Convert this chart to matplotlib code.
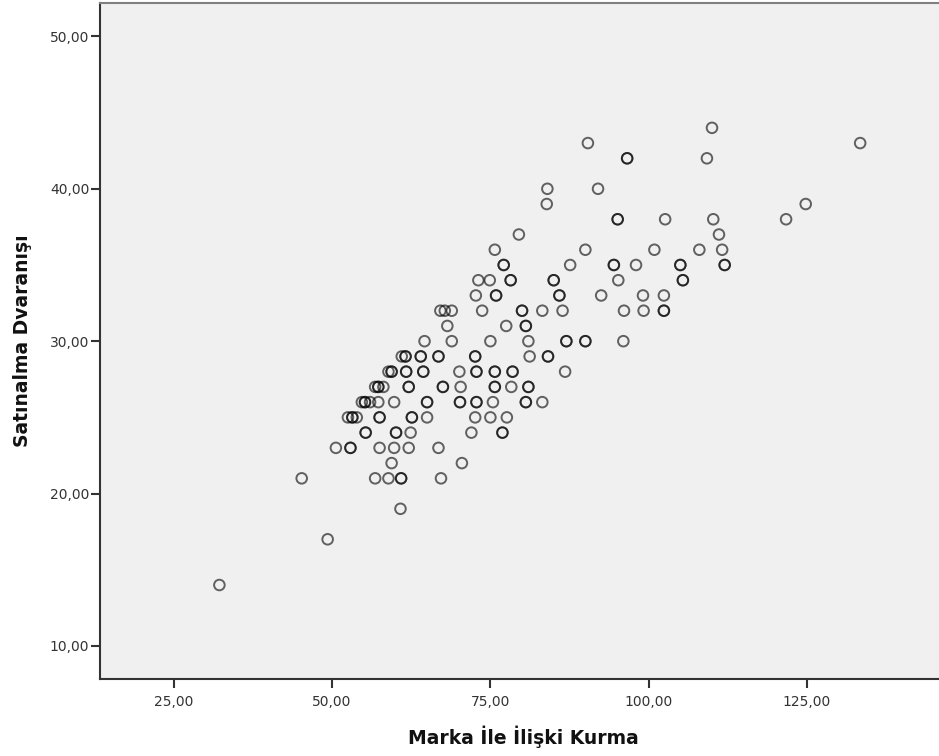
import matplotlib.pyplot as plt
from matplotlib.ticker import FuncFormatter

plt.rcParams['font.family'] = ['DejaVu Sans']

# Satınalma Dvaranışı (y) rows with the Marka İle İlişki Kurma (x) values.
# Values that appear twice are overlapping cases (drawn darker in the original).
rows = {
    44: [110.0],
    43: [90.4, 133.4],
    42: [96.6, 96.6, 109.2],
    40: [84.0, 92.0],
    39: [83.9, 124.8],
    38: [95.1, 95.1, 102.6, 110.2, 121.7],
    37: [79.5, 111.1],
    36: [75.7, 90.0, 100.9, 108.0, 111.6],
    35: [77.1, 77.1, 87.6, 94.5, 94.5, 98.0, 105.0, 105.0, 112.0, 112.0],
    34: [73.1, 74.9, 78.2, 78.2, 85.0, 85.0, 95.2, 105.4, 105.4],
    33: [72.7, 75.9, 75.9, 85.9, 85.9, 92.5, 99.1, 102.4],
    32: [67.1, 67.8, 68.9, 73.7, 80.0, 80.0, 83.2, 86.4, 96.1, 99.2, 102.4, 102.4],
    31: [68.2, 77.5, 80.6, 80.6],
    30: [64.6, 68.9, 75.0, 81.0, 87.0, 87.0, 90.0, 90.0, 96.0],
    29: [61.0, 61.6, 61.6, 64.0, 64.0, 66.8, 66.8, 72.6, 72.6, 81.2, 84.1, 84.1],
    28: [58.9, 59.4, 59.4, 61.7, 61.7, 64.4, 64.4, 70.1, 72.8, 72.8, 75.7, 75.7,
         78.5, 78.5, 86.8],
    27: [56.8, 57.3, 57.3, 58.1, 62.1, 62.1, 67.5, 67.5, 70.3, 75.7, 75.7, 78.3,
         81.0, 81.0],
    26: [54.7, 55.2, 55.2, 56.0, 57.3, 59.8, 65.0, 65.0, 70.2, 70.2, 72.8, 72.8,
         75.4, 80.6, 80.6, 83.2],
    25: [52.5, 53.2, 53.2, 53.9, 57.5, 57.5, 62.6, 62.6, 65.0, 72.6, 75.0, 77.6],
    24: [55.3, 55.3, 60.1, 60.1, 62.4, 72.0, 76.9, 76.9],
    23: [50.6, 52.9, 52.9, 57.5, 59.8, 62.1, 66.8],
    22: [59.4, 70.5],
    21: [45.2, 56.8, 58.9, 60.9, 60.9, 67.2],
    19: [60.8],
    17: [49.3],
    14: [32.2],
}

x_vals = [x for y, xs in rows.items() for x in xs]
y_vals = [y for y, xs in rows.items() for x in xs]

x_ticks = [25, 50, 75, 100, 125]
y_ticks = [10, 20, 30, 40, 50]

fig = plt.figure(figsize=(9.39, 7.56), dpi=100)
ax = fig.add_axes([0.107, 0.1015, 0.893, 0.8945])
ax.set_facecolor('#f0f0f0')

ax.scatter(x_vals, y_vals, s=58, facecolors='none', edgecolors=(0, 0, 0, 0.6),
           linewidths=1.4, zorder=3)

ax.set_xlim(13.42, 145.85)
ax.set_ylim(7.815, 52.19)
ax.set_xticks(x_ticks)
ax.set_yticks(y_ticks)

fmt = FuncFormatter(lambda v, p: f'{v:.2f}'.replace('.', ','))
ax.xaxis.set_major_formatter(fmt)
ax.yaxis.set_major_formatter(fmt)

ax.tick_params(axis='both', direction='out', length=6.5, width=1.5, color='#333333',
               labelsize=10, labelcolor='#333333')
ax.tick_params(axis='x', pad=4.5)
ax.tick_params(axis='y', pad=1.5)

for side in ['left', 'bottom']:
    ax.spines[side].set_color('#333333')
    ax.spines[side].set_linewidth(1.5)
ax.spines['top'].set_color('#808080')
ax.spines['top'].set_linewidth(1.5)
ax.spines['right'].set_visible(False)

fig.text(0.557, 0.026, 'Marka İle İlişki Kurma', ha='center', va='center',
         fontsize=13.5, fontweight='bold', color='#111111')
fig.text(0.024, 0.55, 'Satınalma Dvaranışı', ha='center', va='center',
         rotation='vertical', fontsize=13.5, fontweight='bold', color='#111111')

fig.savefig('out.png', dpi=100)
